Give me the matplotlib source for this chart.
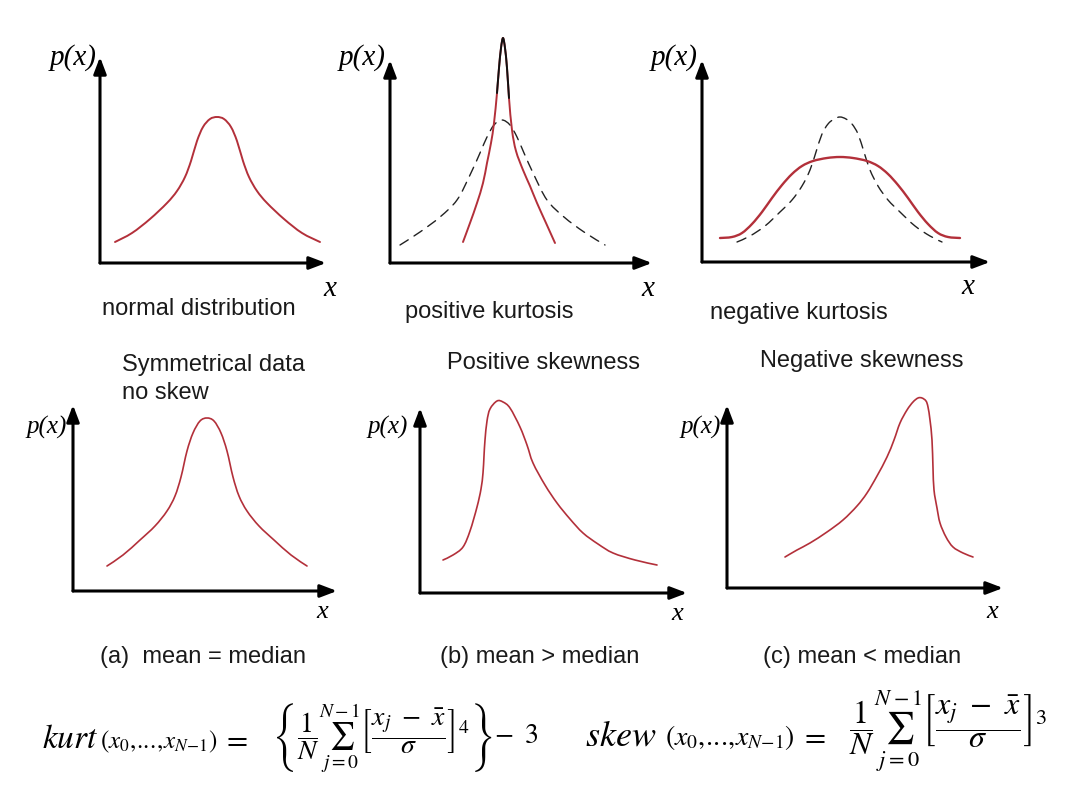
import matplotlib
matplotlib.use("Agg")
import matplotlib.pyplot as plt
from matplotlib.path import Path
from matplotlib.patches import PathPatch
import numpy as np

plt.rcParams['mathtext.fontset'] = 'stix'
plt.rcParams['font.family'] = ['Liberation Sans', 'DejaVu Sans']

W, H = 1080, 810
RED = '#b3303a'
DASH = '#222222'

# ---------- data (curve samples; units = px from panel origin) ----------
# panel 1: normal distribution
p1_x = [15, 32, 50, 67, 77, 85, 91, 97, 103, 110, 117, 124, 131, 137, 143, 149, 157, 167, 184, 202, 220]
p1_y = [21, 30, 44, 60, 72, 86, 102, 122, 136, 144, 146, 144, 136, 122, 102, 86, 72, 60, 44, 30, 21]

# panel 2: positive kurtosis (dashed reference + sharp peak)
p2_dash_x = [10, 30, 50, 67, 80, 90, 97, 104, 112, 120, 127, 134, 144, 157, 174, 194, 215]
p2_dash_y = [18, 31, 46, 63, 88, 110, 126, 138, 143, 138, 126, 110, 88, 63, 46, 31, 18]
p2_peak_x = [73, 80, 87, 93, 97, 101, 104, 107, 109, 111, 113, 115, 117, 119, 122, 126, 133, 140, 147, 156, 165]
p2_peak_y = [21, 40, 60, 80, 100, 120, 140, 170, 195, 215, 225, 215, 195, 165, 133, 112, 93, 77, 60, 40, 20]

# panel 3: negative kurtosis (flat red + dashed reference)
p3_flat_x = [18, 30, 40, 50, 60, 70, 80, 90, 100, 111, 125, 138, 151, 165, 176, 186, 196, 206, 216, 226, 236, 246, 258]
p3_flat_y = [24, 25, 29, 38, 50, 64, 77, 88, 96, 101, 104, 105, 104, 101, 96, 88, 77, 64, 50, 38, 29, 25, 24]
p3_dash_x = [35, 48, 63, 78, 90, 100, 108, 114, 120, 126, 132, 138, 144, 150, 156, 162, 168, 176, 186, 198, 213, 228, 240]
p3_dash_y = [20, 26, 36, 50, 62, 76, 92, 110, 128, 138, 143, 145, 143, 138, 128, 110, 92, 76, 62, 50, 36, 26, 20]

# panel 4: symmetrical data, no skew
p4_x = [34, 50, 67, 82, 94, 102, 108, 114, 120, 127, 134, 141, 148, 154, 160, 166, 174, 186, 201, 218, 234]
p4_y = [25, 36, 51, 65, 80, 95, 114, 140, 158, 170, 173, 170, 158, 140, 114, 95, 80, 65, 51, 36, 25]

# panel 5: positive skewness
p5_x = [23, 33, 43, 50, 57, 61, 63, 64, 65, 67, 70, 77, 83, 90, 100, 107, 113, 125, 137, 150, 163, 178, 193, 215, 237]
p5_y = [33, 38, 46, 62, 86, 104, 120, 137, 153, 172, 184, 192, 191, 185, 166, 148, 130, 108, 90, 74, 60, 49, 40, 33, 28]

# panel 6: negative skewness
p6_x = [58, 70, 83, 100, 116, 130, 140, 150, 160, 167, 173, 180, 186, 191, 195, 199, 201, 203, 205, 206, 207, 210, 213, 219, 226, 236, 246]
p6_y = [31, 38, 45, 56, 68, 82, 95, 112, 131, 148, 165, 178, 186, 190, 190, 187, 181, 168, 148, 120, 98, 80, 65, 51, 41, 35, 31]

# ---------- text ----------
top_captions = ["normal distribution", "positive kurtosis", "negative kurtosis"]
skew_titles = ["Symmetrical data\nno skew", "Positive skewness", "Negative skewness"]
skew_captions = ["(a)  mean = median", "(b) mean > median", "(c) mean < median"]
kurt_word = r'$\mathit{kurt}$'
skew_word = r'$\mathit{skew}$'
args = r'$(x_0,\!.\!.\!.\!,\!x_{N{-}1})$'
kurt_rhs = (r'$\left\{\dfrac{1}{N}\sum_{j=0}^{N-1}\left[\dfrac{x_j\ -\ \bar{x}}{\sigma}\right]^4'
            r'\right\}\!-\ 3$')
skew_rhs = r'$\dfrac{1}{N}\sum_{j=0}^{N-1}\left[\dfrac{x_j\ -\ \bar{x}}{\sigma}\right]^3$'

# ---------- layout (panel boxes in pixels: y-axis x, corner y, x-arrow tip, y-arrow tip) ----------
boxes = [(100, 263, 326, 57), (390, 263, 652, 60), (702, 262, 990, 60),
         (73, 591, 337, 405), (420, 593, 687, 408), (727, 588, 1003, 405)]

fig = plt.figure(figsize=(W / 100, H / 100), dpi=100)
fig.patch.set_facecolor('white')


def fx(px):
    return px / W


def fy(py):
    return 1 - py / H


def smooth_curve(ax, xs, ys, **kw):
    """Draw a smooth Bezier path (Catmull-Rom) through the read points."""
    P = np.column_stack([xs, ys]).astype(float)
    n = len(P)
    verts = [P[0]]
    codes = [Path.MOVETO]
    for i in range(n - 1):
        p0 = P[i - 1] if i > 0 else P[i]
        p1 = P[i]
        p2 = P[i + 1]
        p3 = P[i + 2] if i + 2 < n else P[i + 1]
        c1 = p1 + (p2 - p0) / 6.0
        c2 = p2 - (p3 - p1) / 6.0
        verts += [c1, c2, p2]
        codes += [Path.CURVE4] * 3
    patch = PathPatch(Path(verts, codes), fill=False, clip_on=False,
                      capstyle='round', joinstyle='round', **kw)
    ax.add_patch(patch)
    return patch


axes = []
for (l, b, r, t) in boxes:
    ax = fig.add_axes([fx(l), fy(b), (r - l) / W, (b - t) / H])
    ax.set_xlim(0, r - l)
    ax.set_ylim(0, b - t)
    ax.axis('off')
    arrow = dict(arrowstyle='-|>,head_length=1.0,head_width=0.38', lw=2.2,
                 color='black', shrinkA=0, shrinkB=0)
    ax.annotate('', xy=(1, 0), xytext=(0, 0), xycoords='axes fraction',
                textcoords='axes fraction', arrowprops=arrow)
    ax.annotate('', xy=(0, 1), xytext=(0, 0), xycoords='axes fraction',
                textcoords='axes fraction', arrowprops=arrow)
    axes.append(ax)

lw = 1.4
smooth_curve(axes[0], p1_x, p1_y, edgecolor=RED, lw=lw)

smooth_curve(axes[1], p2_dash_x, p2_dash_y, edgecolor=DASH, lw=1.0, linestyle=(0, (7, 5)))
smooth_curve(axes[1], p2_peak_x, p2_peak_y, edgecolor=RED, lw=lw)
px2 = np.array(p2_peak_x)
py2 = np.array(p2_peak_y)
top = py2 >= 165
smooth_curve(axes[1], px2[top], py2[top], edgecolor='#111111', lw=lw)

smooth_curve(axes[2], p3_dash_x, p3_dash_y, edgecolor=DASH, lw=1.0, linestyle=(0, (7, 5)))
smooth_curve(axes[2], p3_flat_x, p3_flat_y, edgecolor=RED, lw=1.7)

smooth_curve(axes[3], p4_x, p4_y, edgecolor=RED, lw=1.2)
smooth_curve(axes[4], p5_x, p5_y, edgecolor=RED, lw=1.2)
smooth_curve(axes[5], p6_x, p6_y, edgecolor=RED, lw=1.2)

# axis labels p(x) and x
serif_it = dict(family=['Liberation Serif', 'DejaVu Serif'], style='italic')
px_pos = [(97, 58, 21), (386, 58, 21), (698, 58, 21), (67, 427, 18), (408, 427, 18), (721, 427, 18)]
for (x, y, s) in px_pos:
    fig.text(fx(x), fy(y), 'p(x)', ha='right', va='center', fontsize=s, **serif_it)
x_pos = [(330, 289, 21), (648, 289, 21), (968, 287, 21), (322, 612, 19), (677, 614, 19), (992, 612, 19)]
for (x, y, s) in x_pos:
    fig.text(fx(x), fy(y), 'x', ha='center', va='center', fontsize=s, **serif_it)

# captions
for (x, y), s in zip([(102, 309), (405, 312), (710, 313)], top_captions):
    fig.text(fx(x), fy(y), s, ha='left', va='center', fontsize=17, color='#1a1a1a')
fig.text(fx(122), fy(379), skew_titles[0], ha='left', va='center', fontsize=17,
         color='#1a1a1a', linespacing=1.3)
fig.text(fx(447), fy(363), skew_titles[1], ha='left', va='center', fontsize=17, color='#1a1a1a')
fig.text(fx(760), fy(361), skew_titles[2], ha='left', va='center', fontsize=17, color='#1a1a1a')
for (x, y), s in zip([(100, 657), (440, 657), (763, 657)], skew_captions):
    fig.text(fx(x), fy(y), s, ha='left', va='center', fontsize=17, color='#1a1a1a')

# formulas (word, arguments, equals sign, right-hand side)
fig.text(fx(42), fy(748), kurt_word, ha='left', va='baseline', fontsize=24)
fig.text(fx(217), fy(748), args, ha='right', va='baseline', fontsize=18)
fig.text(fx(235), fy(748), r'$=$', ha='center', va='baseline', fontsize=22)
fig.text(fx(272), fy(738), kurt_rhs, ha='left', va='center', fontsize=20)

fig.text(fx(585), fy(745), skew_word, ha='left', va='baseline', fontsize=26)
fig.text(fx(795), fy(745), args, ha='right', va='baseline', fontsize=20)
fig.text(fx(813), fy(745), r'$=$', ha='center', va='baseline', fontsize=22)
fig.text(fx(849), fy(731), skew_rhs, ha='left', va='center', fontsize=23)

fig.savefig('out.png', dpi=100, facecolor='white')
